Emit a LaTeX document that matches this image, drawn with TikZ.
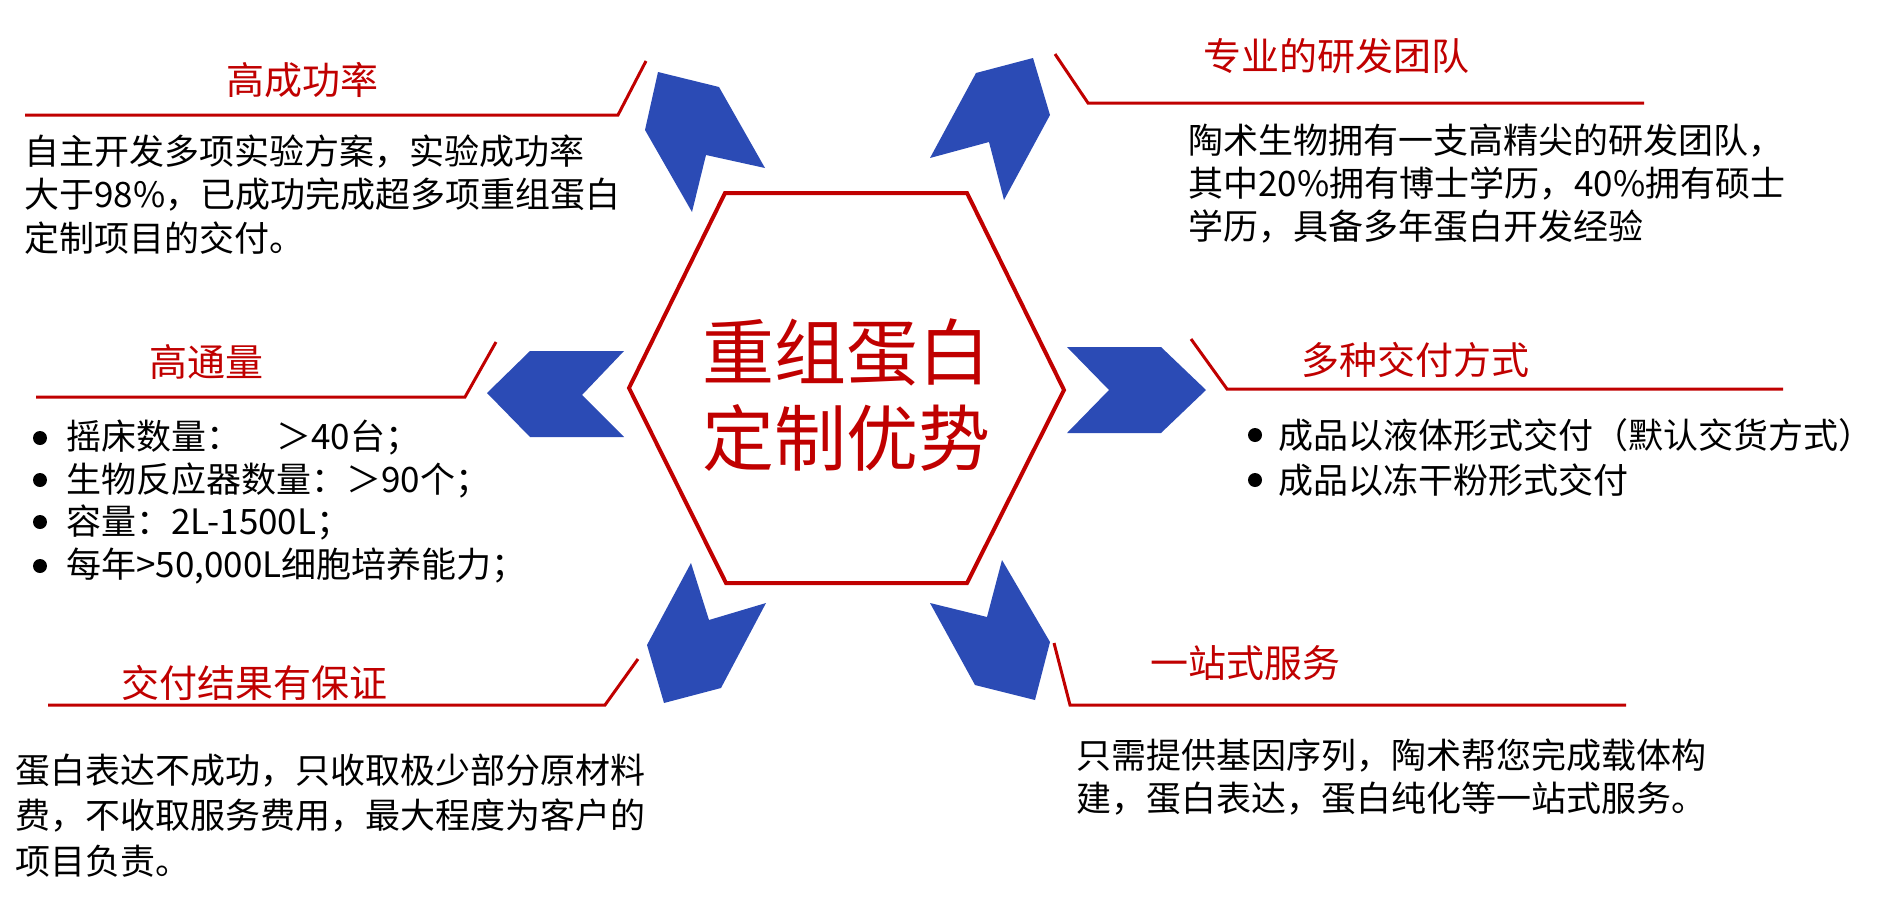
\documentclass[tikz,border=0pt]{standalone}
\usepackage{fontspec}
\setmainfont{Noto Sans CJK SC}
\begin{document}
\begin{tikzpicture}[x=1pt,y=-1pt,
  redln/.style={draw=myred,line width=3pt},
  arr/.style={fill=myblue,draw=none},
  ttl/.style={text=myred,font=\fontsize{38}{42}\selectfont,inner sep=0pt},
  body/.style={anchor=west,font=\fontsize{35}{38}\selectfont,inner sep=0pt},
  dot/.style={circle,fill=black,inner sep=0pt,minimum size=14pt}]
\definecolor{myred}{HTML}{C00000}
\definecolor{myblue}{HTML}{2B4BB5}
\useasboundingbox (0,0) rectangle (1896,900);
% hexagon
\draw[myred,line width=4pt] (725,193)--(967,193)--(1064,390)--(967,583)--(726,583)--(629,388)--cycle;
\node[text=myred,font=\fontsize{72}{86}\selectfont,align=center,inner sep=0pt] (c) at (846,395) {重组蛋白\\定制优势};
% arrows
\path[arr] (658,72)--(719,87)--(765,168)--(706,155)--(692,212)--(645,130)--cycle;
\path[arr] (976,73)--(1033,58)--(1050,115)--(1004,200)--(989,142)--(930,158)--cycle;
\path[arr] (530,351)--(624,351)--(582,395)--(624,437)--(530,437)--(487,393)--cycle;
\path[arr] (1067,347)--(1161,347)--(1206,390)--(1161,433)--(1067,433)--(1109,390)--cycle;
\path[arr] (691,563)--(709,620)--(766,603)--(721,688)--(664,703)--(647,645)--cycle;
\path[arr] (1002,560)--(1050,642)--(1035,700)--(975,685)--(930,603)--(987,617)--cycle;
% top-left
\coordinate (a1) at (25,115); \coordinate (a2) at (618,115); \coordinate (a3) at (646,61);
\draw[redln] (a1)--(a2)--(a3);
\node[ttl] (t1) at (302,80) {高成功率};
\node[body] (b11) at (24,152) {自主开发多项实验方案，实验成功率};
\node[body] (b12) at (24,195) {大于98\%，已成功完成超多项重组蛋白};
\node[body] (b13) at (24,238) {定制项目的交付。};
% top-right
\coordinate (c1) at (1055,54); \coordinate (c2) at (1088,103); \coordinate (c3) at (1644,103);
\draw[redln] (c1)--(c2)--(c3);
\node[ttl] (t2) at (1336,56) {专业的研发团队};
\node[body] (b21) at (1188,141) {陶术生物拥有一支高精尖的研发团队，};
\node[body] (b22) at (1188,184) {其中20\%拥有博士学历，40\%拥有硕士};
\node[body] (b23) at (1188,227) {学历，具备多年蛋白开发经验};
% mid-left
\coordinate (d1) at (36,397); \coordinate (d2) at (465,397); \coordinate (d3) at (496,342);
\draw[redln] (d1)--(d2)--(d3);
\node[ttl] (t3) at (206,362) {高通量};
\node[dot] (p1) at (40,438) {}; \node[body] (q1) at (66,438) {摇床数量：　＞40台；};
\node[dot] (p2) at (40,480) {}; \node[body] (q2) at (66,480) {生物反应器数量：＞90个；};
\node[dot] (p3) at (40,522) {}; \node[body] (q3) at (66,522) {容量：2L-1500L；};
\node[dot] (p4) at (40,566) {}; \node[body] (q4) at (66,566) {每年>50,000L细胞培养能力；};
% mid-right
\coordinate (e1) at (1191,339); \coordinate (e2) at (1227,389); \coordinate (e3) at (1783,389);
\draw[redln] (e1)--(e2)--(e3);
\node[ttl] (t4) at (1415,360) {多种交付方式};
\node[dot] (r1) at (1255,435) {}; \node[body] (s1) at (1278,435) {成品以液体形式交付（默认交货方式）};
\node[dot] (r2) at (1255,480) {}; \node[body] (s2) at (1278,480) {成品以冻干粉形式交付};
% bottom-left
\coordinate (f1) at (638,659); \coordinate (f2) at (605,705); \coordinate (f3) at (48,705);
\draw[redln] (f1)--(f2)--(f3);
\node[ttl] (t5) at (254,683) {交付结果有保证};
\node[body] (b51) at (15,771) {蛋白表达不成功，只收取极少部分原材料};
\node[body] (b52) at (15,816) {费，不收取服务费用，最大程度为客户的};
\node[body] (b53) at (15,861) {项目负责。};
% bottom-right
\coordinate (g1) at (1054,643); \coordinate (g2) at (1070,705); \coordinate (g3) at (1626,705);
\draw[redln] (g1)--(g2)--(g3);
\node[ttl] (t6) at (1245,663) {一站式服务};
\node[body] (b61) at (1076,756) {只需提供基因序列，陶术帮您完成载体构};
\node[body] (b62) at (1076,799) {建，蛋白表达，蛋白纯化等一站式服务。};
\end{tikzpicture}
\end{document}
